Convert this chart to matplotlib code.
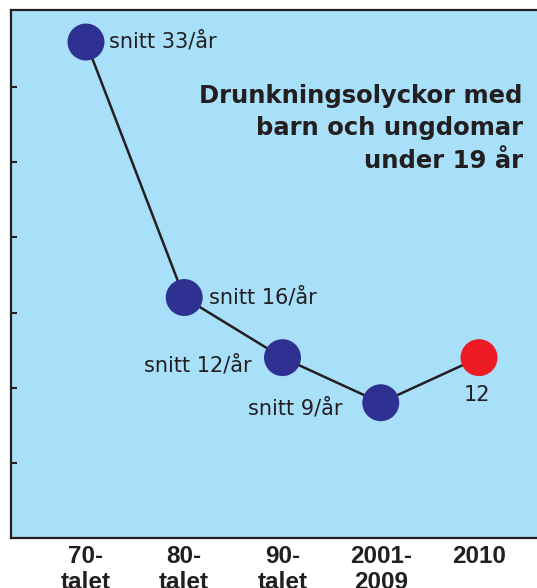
import matplotlib
matplotlib.use("Agg")
import matplotlib.pyplot as plt

plt.rcParams['font.family'] = ['DejaVu Sans']

categories = ["70-\ntalet", "80-\ntalet", "90-\ntalet", "2001-\n2009", "2010"]
values = [33, 16, 12, 9, 12]
point_labels = ["snitt 33/år", "snitt 16/år", "snitt 12/år", "snitt 9/år", "12"]
yticks = [5, 10, 15, 20, 25, 30]
title = "Drunkningsolyckor med\nbarn och ungdomar\nunder 19 år"

bg = "#a8dff9"
navy = "#2e3192"
red = "#ed1c24"
dark = "#231f20"

fig = plt.figure(figsize=(5.37, 5.88), dpi=100)
ax = fig.add_axes([11/537, 50/588, 526/537, 528/588])
ax.set_facecolor(bg)

x = list(range(len(values)))
ax.plot(x, values, color=dark, lw=1.8, zorder=2)
colors = [navy] * (len(values) - 1) + [red]
ax.scatter(x, values, s=26.6**2, c=colors, zorder=3, linewidths=0)

ax.set_xlim(-0.763, 4.59)
ax.set_ylim(0, 35.13)

ax.set_yticks(yticks)
ax.set_yticklabels([])
ax.tick_params(axis='y', direction='in', length=4.5, width=1.5, color=dark)
ax.set_xticks(x)
ax.set_xticklabels(categories, fontsize=17.5, fontweight='bold', color=dark,
                   linespacing=1.18, family=['Liberation Sans', 'DejaVu Sans'])
ax.tick_params(axis='x', length=0, pad=5)

for s in ['left', 'top', 'bottom']:
    ax.spines[s].set_color(dark)
    ax.spines[s].set_linewidth(1.6)
ax.spines['right'].set_visible(False)

offsets = [(16.6, -4.3, 'left'),
           (18, -4.3, 'left'),
           (-22.3, -10, 'right'),
           (-27.4, -8.6, 'right'),
           (-1.4, -31, 'center')]
for xi, yi, lab, (dx, dy, ha) in zip(x, values, point_labels, offsets):
    ax.annotate(lab, (xi, yi), xytext=(dx, dy), textcoords='offset points',
                ha=ha, va='baseline', fontsize=15, color=dark)

ax.text(0.973, 0.860, title, transform=ax.transAxes, ha='right', va='top',
        fontsize=17.5, fontweight='bold', color=dark, linespacing=1.45,
        multialignment='right')

fig.savefig("out.png", dpi=100, facecolor='white')
